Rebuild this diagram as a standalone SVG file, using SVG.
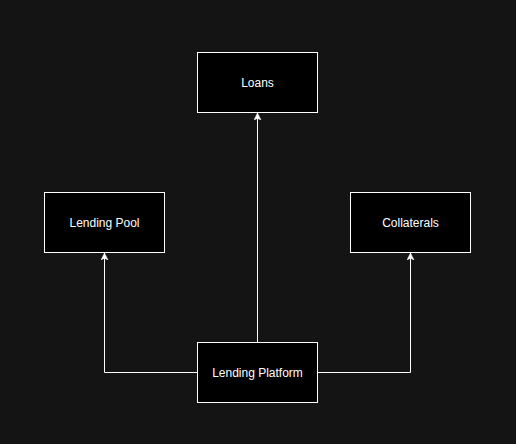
<svg xmlns="http://www.w3.org/2000/svg" width="516" height="444" viewBox="0 0 516 444">
<style>
.box{fill:#000;stroke:#fff;stroke-width:1}
.lbl{fill:#fff;font-family:"Liberation Sans",Arial,sans-serif;font-size:12px;text-anchor:middle;dominant-baseline:central}
.edge{fill:none;stroke:#fff;stroke-width:1}
</style>
<defs>
<marker id="ah" markerWidth="8" markerHeight="8" refX="7" refY="4" orient="auto" markerUnits="userSpaceOnUse">
<path d="M0,0.5 L7,4 L0,7.5 L1.8,4 Z" fill="#fff" stroke="#fff" stroke-width="0.5"/>
</marker>
</defs>
<rect width="516" height="444" fill="#141414"/>
<g id="connectors">
<path class="edge" d="M257.5,342 L257.5,113" marker-end="url(#ah)"/>
<path class="edge" d="M197,372.5 L104.5,372.5 L104.5,253" marker-end="url(#ah)"/>
<path class="edge" d="M317,372.5 L410.5,372.5 L410.5,253" marker-end="url(#ah)"/>
</g>
<g id="loans"><rect class="box" x="197.5" y="52.5" width="120" height="60"/><text class="lbl" x="257.5" y="82.5">Loans</text></g>
<g id="lending-pool"><rect class="box" x="44.5" y="192.5" width="120" height="60"/><text class="lbl" x="104.5" y="222.5">Lending Pool</text></g>
<g id="collaterals"><rect class="box" x="350.5" y="192.5" width="120" height="60"/><text class="lbl" x="410.5" y="222.5">Collaterals</text></g>
<g id="lending-platform"><rect class="box" x="197.5" y="342.5" width="120" height="60"/><text class="lbl" x="257.5" y="372.5">Lending Platform</text></g>
</svg>
